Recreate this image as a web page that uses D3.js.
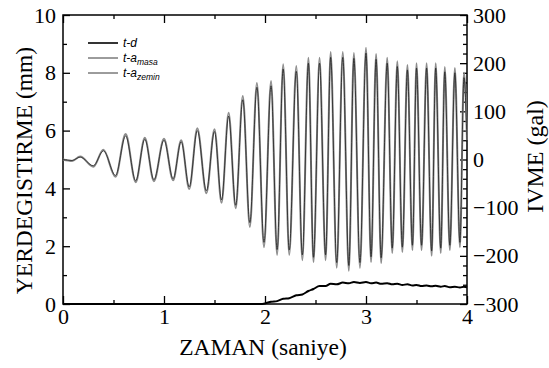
<!DOCTYPE html>
<html>
<head>
<meta charset="utf-8">
<script src="https://cdn.jsdelivr.net/npm/d3@7"></script>
<style>
  body { margin: 0; background: #fff; }
  svg { display: block; }
  .serif { font-family: "Liberation Serif", "Times New Roman", Times, serif; }
</style>
</head>
<body>
<script>
// time (s) of the extremes of the acceleration records
const accTime = [0, 0.09, 0.17, 0.30, 0.40, 0.52, 0.62, 0.72, 0.81, 0.90,
    1.00, 1.09, 1.17, 1.25, 1.33, 1.42, 1.50, 1.57, 1.64, 1.71,
    1.78, 1.85, 1.92, 1.99, 2.06, 2.12, 2.18, 2.24, 2.31, 2.37,
    2.43, 2.48, 2.54, 2.60, 2.65, 2.71, 2.77, 2.83, 2.88, 2.94,
    3.00, 3.05, 3.10, 3.15, 3.21, 3.26, 3.31, 3.36, 3.41, 3.46,
    3.50, 3.55, 3.60, 3.65, 3.69, 3.74, 3.78, 3.83, 3.88, 3.93,
    3.97, 4.00];
// t - a_masa (gal)
const accMasa = [0, -3, 6, -15, 20, -36, 53, -47, 45, -45,
    43, -43, 40, -61, 65, -70, 63, -90, 97, -101,
    132, -140, 159, -182, 163, -198, 198, -198, 194, -209,
    211, -213, 211, -209, 223, -225, 223, -231, 221, -225,
    232, -213, 219, -215, 211, -194, 204, -192, 196, -188,
    200, -188, 200, -200, 200, -194, 192, -188, 190, -182,
    180, 40];
// t - a_zemin (gal)
const accZemin = [0, -2, 5, -13, 18, -33, 49, -44, 42, -42,
    40, -40, 37, -57, 60, -65, 58, -84, 90, -95,
    124, -131, 150, -172, 153, -187, 188, -188, 183, -198,
    200, -203, 200, -198, 212, -214, 212, -220, 210, -214,
    221, -202, 208, -204, 200, -184, 193, -182, 186, -178,
    190, -178, 190, -190, 190, -184, 182, -178, 180, -172,
    170, 38];
// t - d (mm)
const dispTime = [0, 1.95, 2.00, 2.06, 2.12, 2.18, 2.24, 2.31, 2.37, 2.43,
    2.48, 2.54, 2.60, 2.65, 2.71, 2.77, 2.83, 2.88, 2.94, 3.00,
    3.05, 3.10, 3.15, 3.21, 3.26, 3.31, 3.36, 3.41, 3.46, 3.50,
    3.55, 3.60, 3.65, 3.69, 3.74, 3.78, 3.83, 3.88, 3.93, 3.97, 4.00];
const dispValue = [0, 0, 0.02, 0.08, 0.10, 0.18, 0.20, 0.30, 0.33, 0.45,
    0.52, 0.62, 0.62, 0.70, 0.68, 0.74, 0.72, 0.76, 0.73, 0.76,
    0.72, 0.74, 0.70, 0.72, 0.68, 0.70, 0.66, 0.68, 0.64, 0.66,
    0.62, 0.64, 0.61, 0.63, 0.60, 0.62, 0.58, 0.60, 0.57, 0.60, 0.58];

const xTicks = [0, 1, 2, 3, 4];
const xMinor = [0.5, 1.5, 2.5, 3.5];
const yLeftTicks = [0, 2, 4, 6, 8, 10];
const yLeftMinor = [1, 3, 5, 7, 9];
const yRightTicks = [-300, -200, -100, 0, 100, 200, 300];
const yRightMinor = d3.range(-280, 300, 20).filter(v => v % 100 !== 0);

const legendItems = [
    {main: "t-d", sub: ""},
    {main: "t-a", sub: "masa"},
    {main: "t-a", sub: "zemin"}
];

const margin = {top: 15, right: 82, bottom: 64, left: 63};
const width = 404;
const height = 289;

const svg = d3.select('body')
    .append('svg')
    .attr("width", width + margin.left + margin.right)
    .attr("height", height + margin.top + margin.bottom)
    .append("g")
    .attr("transform", "translate(" + margin.left + ", " + margin.top + ")");

const xScale = d3.scaleLinear().domain([0, 4]).range([0, width]);
const yLeft = d3.scaleLinear().domain([0, 10]).range([height, 0]);
const yRight = d3.scaleLinear().domain([-300, 300]).range([height, 0]);

function styleAxis(g) {
    g.attr("font-family", null).attr("font-size", null);
    g.select(".domain").remove();
    g.selectAll(".tick line").attr("stroke", "#000").attr("stroke-width", 1.3);
    g.selectAll(".tick text")
        .attr("class", "serif")
        .style("font-size", "22px")
        .attr("fill", "#000");
}

// bottom axis
svg.append("g")
    .attr("transform", "translate(0," + height + ")")
    .call(d3.axisBottom(xScale).tickValues(xTicks).tickFormat(d3.format("d"))
        .tickSize(-8).tickPadding(4))
    .call(styleAxis);
svg.append("g")
    .attr("transform", "translate(0," + height + ")")
    .call(d3.axisBottom(xScale).tickValues(xMinor).tickFormat("").tickSize(-4))
    .call(styleAxis);
// top axis
svg.append("g")
    .call(d3.axisTop(xScale).tickValues(xTicks).tickFormat("").tickSize(-8))
    .call(styleAxis);
svg.append("g")
    .call(d3.axisTop(xScale).tickValues(xMinor).tickFormat("").tickSize(-4))
    .call(styleAxis);
// left axis
svg.append("g")
    .call(d3.axisLeft(yLeft).tickValues(yLeftTicks).tickSize(-7).tickPadding(7))
    .call(styleAxis);
svg.append("g")
    .call(d3.axisLeft(yLeft).tickValues(yLeftMinor).tickFormat("").tickSize(-4))
    .call(styleAxis);
// right axis
svg.append("g")
    .attr("transform", "translate(" + width + ",0)")
    .call(d3.axisRight(yRight).tickValues(yRightTicks).tickSize(-7).tickPadding(6))
    .call(styleAxis);
svg.append("g")
    .attr("transform", "translate(" + width + ",0)")
    .call(d3.axisRight(yRight).tickValues(yRightMinor).tickFormat("").tickSize(-4))
    .call(styleAxis);

// frame
svg.append("rect")
    .attr("width", width)
    .attr("height", height)
    .attr("fill", "none")
    .attr("stroke", "#000")
    .attr("stroke-width", 1.5);

// acceleration lines
const accLine = function (values) {
    return d3.line()
        .x(function (d, i) { return xScale(accTime[i]); })
        .y(function (d) { return yRight(d); })
        .curve(d3.curveMonotoneX)(values);
};
svg.append("path")
    .attr("d", accLine(accMasa))
    .attr("fill", "none")
    .attr("stroke", "#8c8c8c")
    .attr("stroke-width", 2);
svg.append("path")
    .attr("d", accLine(accZemin))
    .attr("fill", "none")
    .attr("stroke", "#222")
    .attr("stroke-width", 0.8);

// displacement line
const dispLine = d3.line()
    .x(function (d, i) { return xScale(dispTime[i]); })
    .y(function (d) { return yLeft(d); })
    .curve(d3.curveMonotoneX);
svg.append("path")
    .attr("d", dispLine(dispValue))
    .attr("fill", "none")
    .attr("stroke", "#000")
    .attr("stroke-width", 2);

// legend
const legend = svg.append("g").attr("transform", "translate(25,28)");
legendItems.forEach(function (item, i) {
    const row = legend.append("g").attr("transform", "translate(0," + (i * 15) + ")");
    row.append("line")
        .attr("x1", 0).attr("x2", 30)
        .attr("stroke", i === 0 ? "#000" : "#222")
        .attr("stroke-width", i === 0 ? 1.6 : 0.9);
    const t = row.append("text")
        .attr("x", 35).attr("y", 4)
        .style("font-family", "'Liberation Sans', Arial, sans-serif")
        .style("font-style", "italic")
        .style("font-size", "12px")
        .text(item.main);
    if (item.sub) {
        t.append("tspan")
            .style("font-size", "8.5px")
            .attr("dy", 3)
            .text(item.sub);
    }
});

// axis titles
svg.append("text")
    .attr("class", "serif")
    .attr("x", width / 2 - 2)
    .attr("y", height + 51)
    .attr("text-anchor", "middle")
    .style("font-size", "23.5px")
    .text("ZAMAN (saniye)");
svg.append("text")
    .attr("class", "serif")
    .attr("transform", "translate(-31," + (height / 2 + 11) + ") rotate(-90)")
    .attr("text-anchor", "middle")
    .style("font-size", "23.5px")
    .text("YERDEGISTIRME (mm)");
svg.append("text")
    .attr("class", "serif")
    .attr("transform", "translate(" + (width + 76) + "," + (height / 2 - 3) + ") rotate(-90)")
    .attr("text-anchor", "middle")
    .style("font-size", "24px")
    .text("IVME (gal)");
</script>
</body>
</html>
